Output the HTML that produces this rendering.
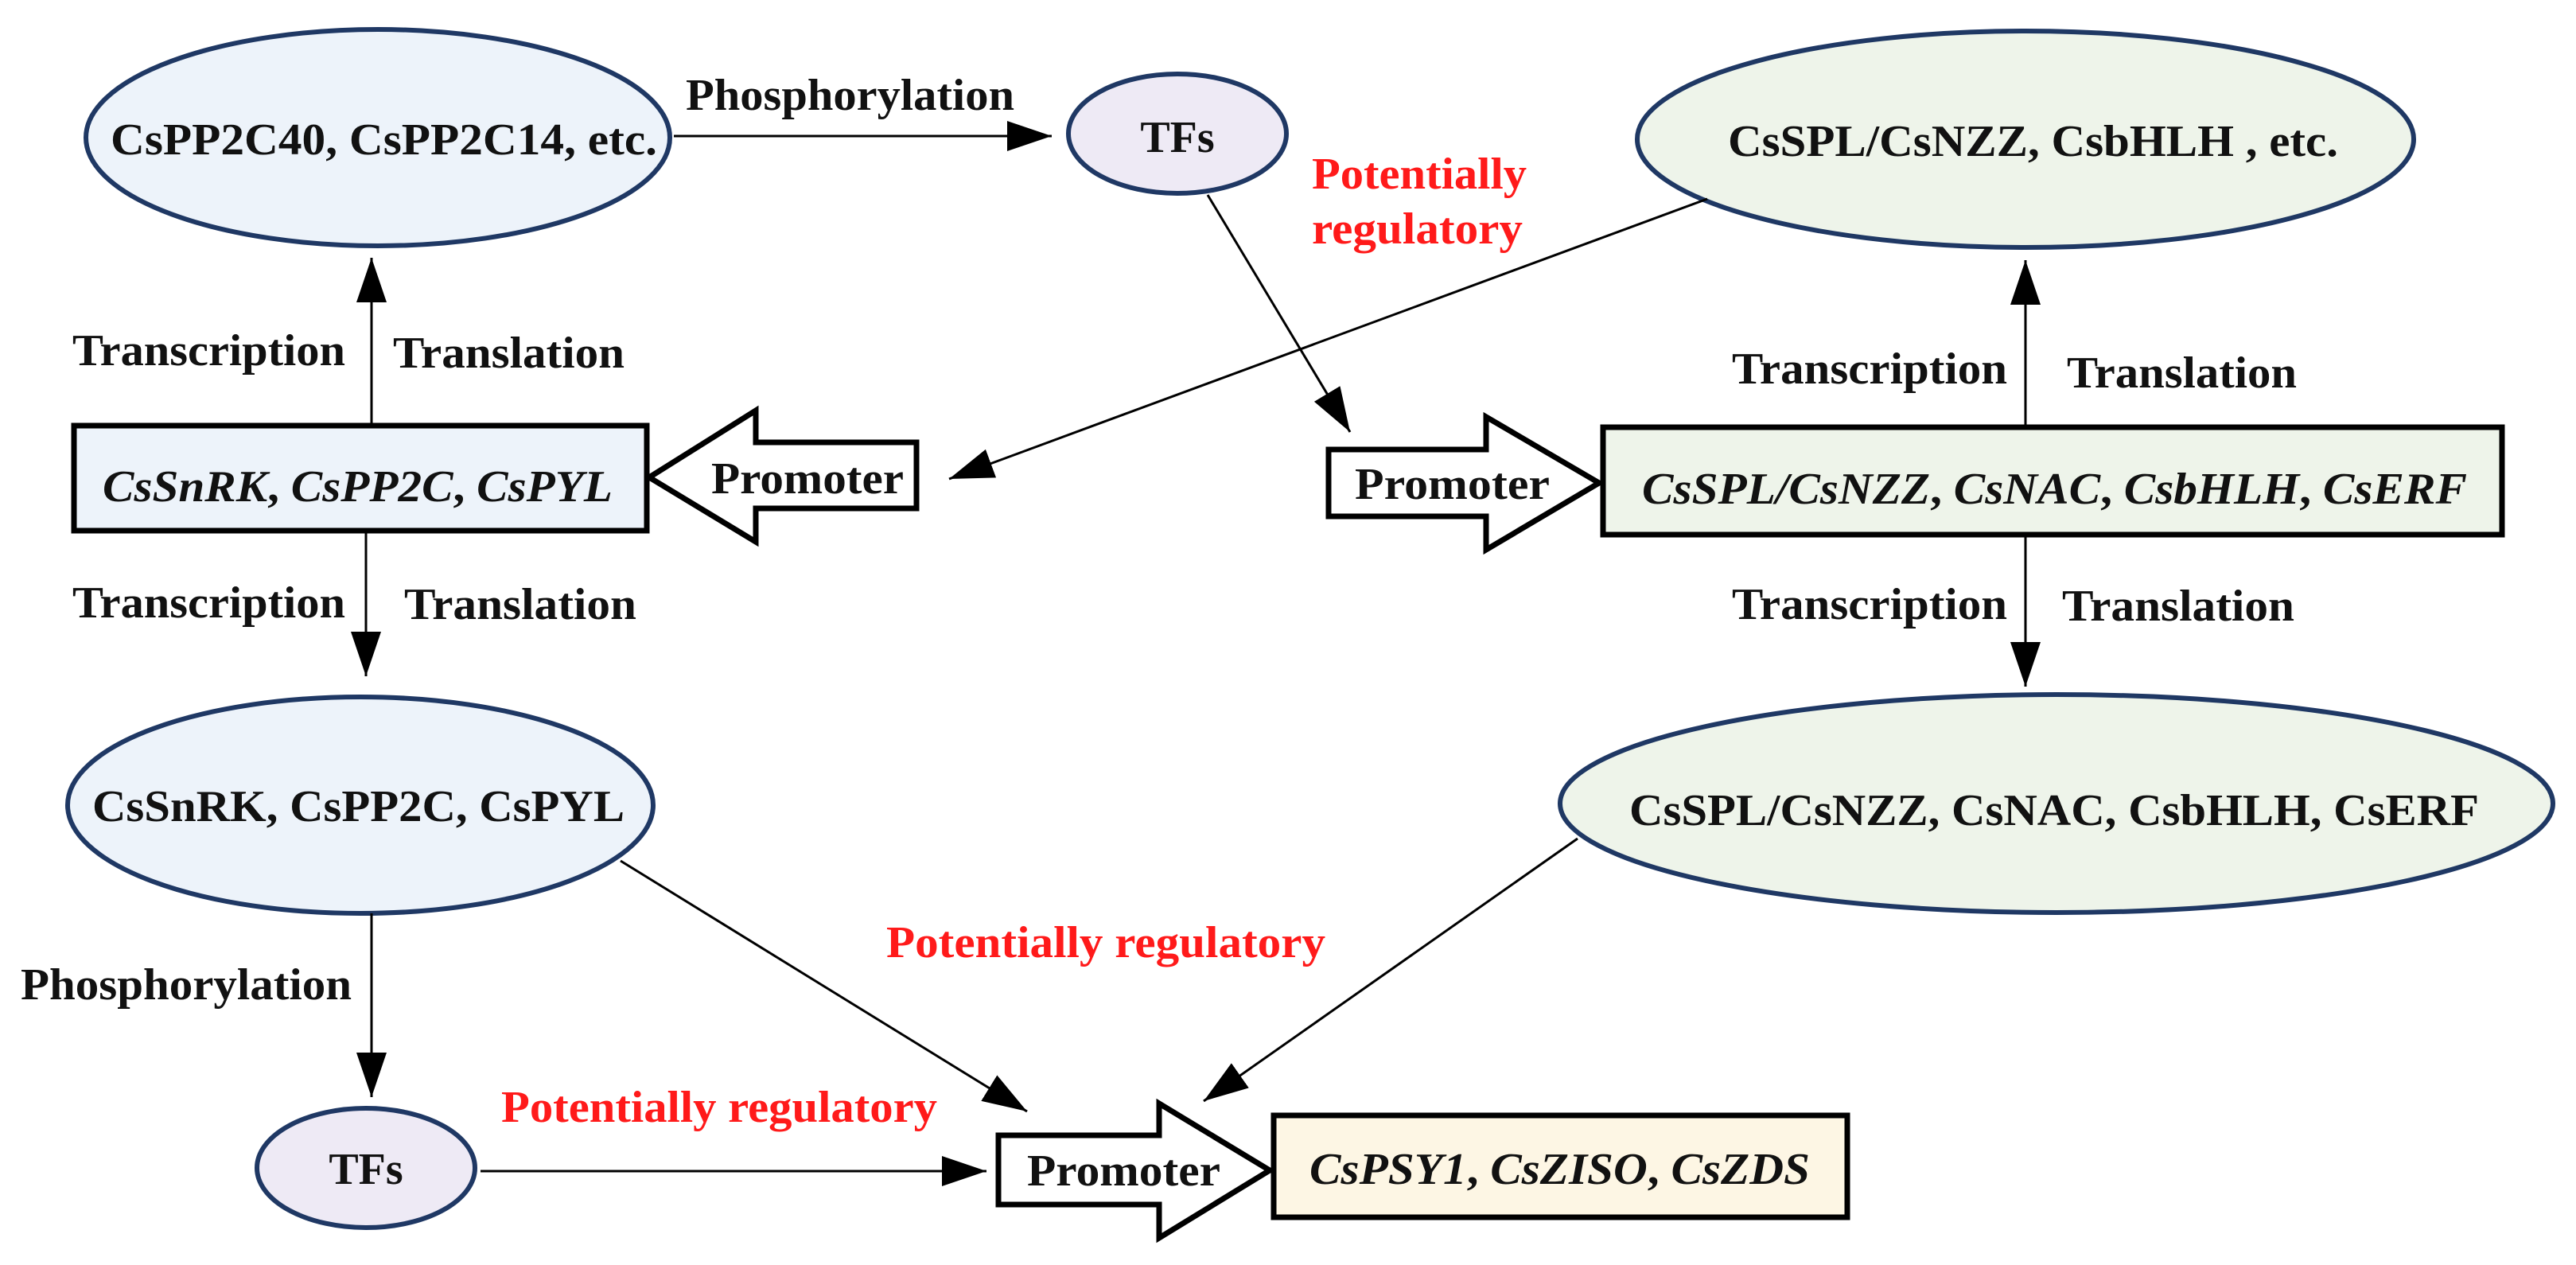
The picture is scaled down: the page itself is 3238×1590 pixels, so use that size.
<!DOCTYPE html>
<html><head><meta charset="utf-8"><style>
html,body{margin:0;padding:0;background:#fff;}
svg{display:block;}
text{font-family:"Liberation Serif",serif;font-weight:bold;font-size:56px;fill:#111;}
.i{font-style:italic;}
.r{fill:#ff1a1a;}
</style></head><body>
<svg width="3238" height="1590" viewBox="0 0 3238 1590" xmlns="http://www.w3.org/2000/svg">
<defs>
<marker id="b" markerWidth="56" markerHeight="38" refX="56" refY="19" orient="auto" markerUnits="userSpaceOnUse" viewBox="0 0 56 38"><path d="M0,0 L56,19 L0,38 z" fill="#000"/></marker></defs>
<g stroke="#1f3864" stroke-width="6">
<ellipse cx="475" cy="173" rx="367" ry="136" fill="#edf3fa"/>
<ellipse cx="1480" cy="168" rx="137" ry="75" fill="#eeeaf5"/>
<ellipse cx="2546" cy="175" rx="488" ry="136" fill="#eef4ea"/>
<ellipse cx="453" cy="1012" rx="368" ry="136" fill="#edf3fa"/>
<ellipse cx="2585" cy="1010" rx="624" ry="137" fill="#eef4ea"/>
<ellipse cx="460" cy="1468" rx="137" ry="75" fill="#eeeaf5"/>
</g>
<g stroke="#000" stroke-width="7">
<rect x="93" y="535" width="720" height="132" fill="#edf3fa"/>
<rect x="2015" y="537" width="1130" height="135" fill="#eef4ea"/>
<rect x="1601" y="1402" width="721" height="128" fill="#fdf6e4"/>
<path d="M816,600 L950,516 L950,556 L1152,556 L1152,639 L950,639 L950,681 Z" fill="#fff"/>
<path d="M2010,607 L1868,524 L1868,565 L1670,565 L1670,649 L1868,649 L1868,691 Z" fill="#fff"/>
<path d="M1596,1471 L1457,1387 L1457,1427 L1255,1427 L1255,1514 L1457,1514 L1457,1556 Z" fill="#fff"/>
</g>
<g stroke="#000" stroke-width="3" fill="none">
<line x1="847" y1="171" x2="1322" y2="171" marker-end="url(#b)"/>
<line x1="467" y1="533" x2="467" y2="324" marker-end="url(#b)"/>
<line x1="460" y1="667" x2="460" y2="850" marker-end="url(#b)"/>
<line x1="2546" y1="537" x2="2546" y2="327" marker-end="url(#b)"/>
<line x1="2546" y1="672" x2="2546" y2="863" marker-end="url(#b)"/>
<line x1="467" y1="1148" x2="467" y2="1379" marker-end="url(#b)"/>
<line x1="1518" y1="245" x2="1697" y2="543" marker-end="url(#b)"/>
<line x1="2146" y1="250" x2="1193" y2="602" marker-end="url(#b)"/>
<line x1="780" y1="1082" x2="1291" y2="1397" marker-end="url(#b)"/>
<line x1="1983" y1="1054" x2="1513" y2="1384" marker-end="url(#b)"/>
<line x1="604" y1="1472" x2="1240" y2="1472" marker-end="url(#b)"/>
</g>
<g lengthAdjust="spacingAndGlyphs">
<text x="139" y="194" textLength="687" lengthAdjust="spacingAndGlyphs">CsPP2C40, CsPP2C14, etc.</text>
<text x="1480" y="191" text-anchor="middle">TFs</text>
<text x="2172" y="196" textLength="767" lengthAdjust="spacingAndGlyphs">CsSPL/CsNZZ, CsbHLH , etc.</text>
<text x="116" y="1032" textLength="669" lengthAdjust="spacingAndGlyphs">CsSnRK, CsPP2C, CsPYL</text>
<text x="2048" y="1037" textLength="1068" lengthAdjust="spacingAndGlyphs">CsSPL/CsNZZ, CsNAC, CsbHLH, CsERF</text>
<text x="460" y="1488" text-anchor="middle">TFs</text>
<text x="129" y="630" textLength="641" lengthAdjust="spacingAndGlyphs" class="i">CsSnRK<tspan font-style="normal">, </tspan>CsPP2C<tspan font-style="normal">, </tspan>CsPYL</text>
<text x="2064" y="633" textLength="1037" lengthAdjust="spacingAndGlyphs" class="i">CsSPL/CsNZZ<tspan font-style="normal">, </tspan>CsNAC<tspan font-style="normal">, </tspan>CsbHLH<tspan font-style="normal">, </tspan>CsERF</text>
<text x="1646" y="1488" textLength="629" lengthAdjust="spacingAndGlyphs" class="i">CsPSY1<tspan font-style="normal">, </tspan>CsZISO<tspan font-style="normal">, </tspan>CsZDS</text>
<text x="894" y="620" textLength="242" lengthAdjust="spacingAndGlyphs">Promoter</text>
<text x="1703" y="627" textLength="245" lengthAdjust="spacingAndGlyphs">Promoter</text>
<text x="1291" y="1490" textLength="243" lengthAdjust="spacingAndGlyphs">Promoter</text>
<text x="862" y="138" textLength="413" lengthAdjust="spacingAndGlyphs">Phosphorylation</text>
<text x="26" y="1256" textLength="416" lengthAdjust="spacingAndGlyphs">Phosphorylation</text>
<text x="91" y="459" textLength="343" lengthAdjust="spacingAndGlyphs">Transcription</text>
<text x="494" y="462" textLength="291" lengthAdjust="spacingAndGlyphs">Translation</text>
<text x="91" y="776" textLength="343" lengthAdjust="spacingAndGlyphs">Transcription</text>
<text x="508" y="778" textLength="292" lengthAdjust="spacingAndGlyphs">Translation</text>
<text x="2177" y="482" textLength="346" lengthAdjust="spacingAndGlyphs">Transcription</text>
<text x="2598" y="487" textLength="289" lengthAdjust="spacingAndGlyphs">Translation</text>
<text x="2177" y="778" textLength="346" lengthAdjust="spacingAndGlyphs">Transcription</text>
<text x="2592" y="780" textLength="292" lengthAdjust="spacingAndGlyphs">Translation</text>
<text x="1649" y="237" textLength="270" lengthAdjust="spacingAndGlyphs" class="r">Potentially</text>
<text x="1649" y="306" textLength="265" lengthAdjust="spacingAndGlyphs" class="r">regulatory</text>
<text x="1114" y="1203" textLength="552" lengthAdjust="spacingAndGlyphs" class="r">Potentially regulatory</text>
<text x="630" y="1410" textLength="548" lengthAdjust="spacingAndGlyphs" class="r">Potentially regulatory</text>
</g>
</svg>
</body></html>
